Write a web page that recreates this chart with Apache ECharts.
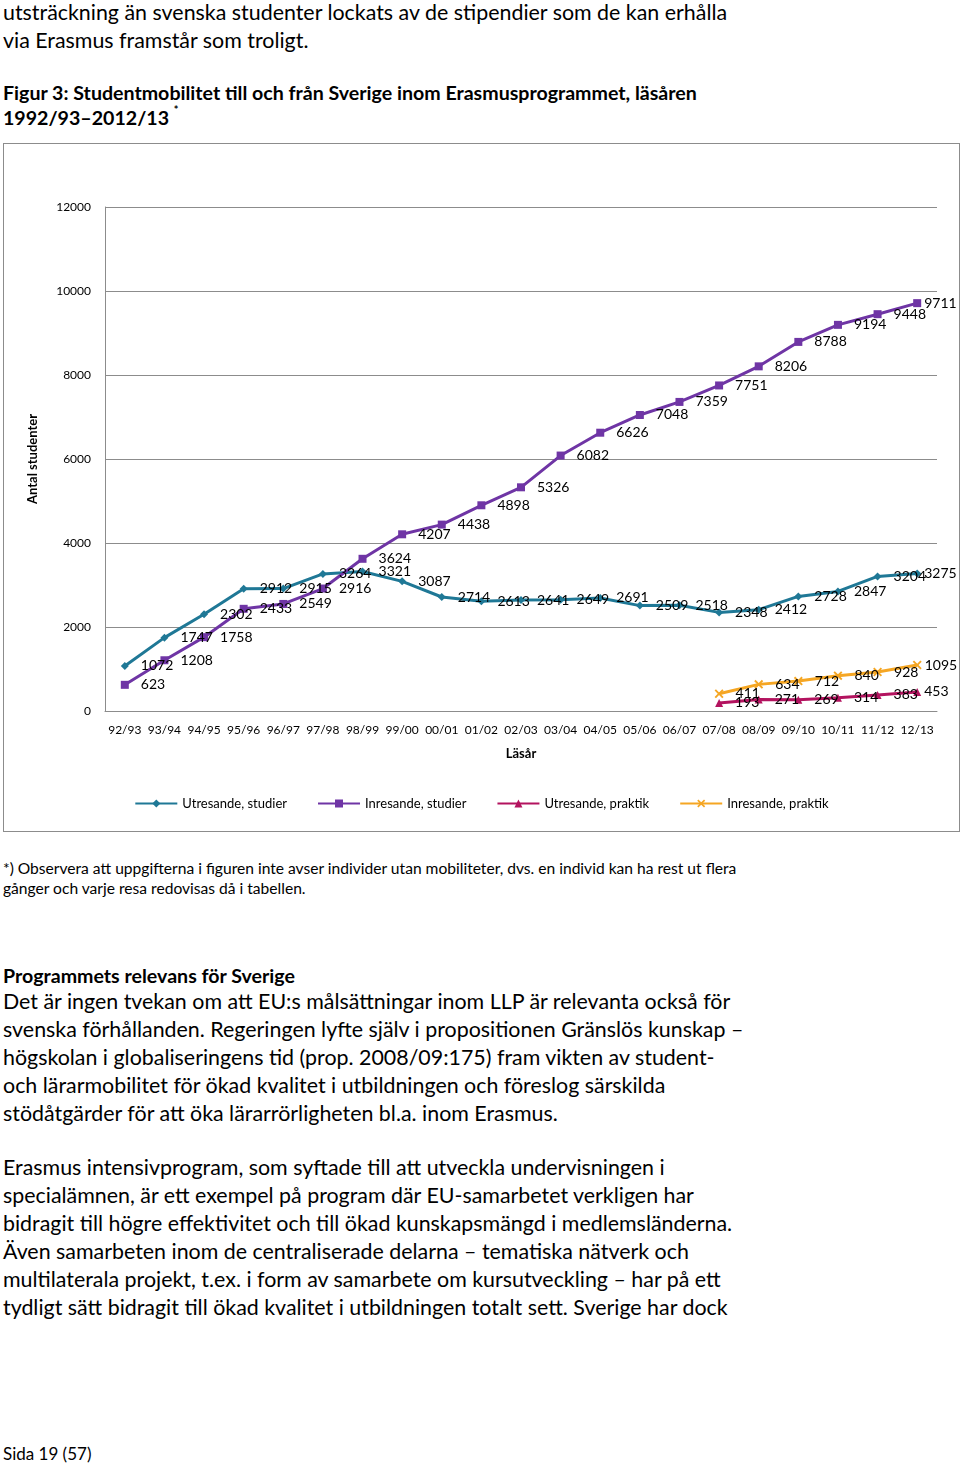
<!DOCTYPE html>
<html><head><meta charset="utf-8">
<script src="https://cdn.jsdelivr.net/npm/echarts@6/dist/echarts.min.js"></script>
<style>
html,body{margin:0;padding:0;background:#fff;}
body{width:960px;height:1466px;position:relative;overflow:hidden;font-family:Lato,"Open Sans",sans-serif;color:#000;}
.l{position:absolute;left:3px;white-space:nowrap;line-height:1;}
.b{font-size:21.4px;}
.c{font-size:19.6px;font-weight:bold;}
.f{font-size:15.6px;}
#chart{position:absolute;left:3px;top:143px;width:955px;height:687px;border:1.5px solid #8c8c8c;}
</style></head><body>
<div class="l b" style="top:2px">utsträckning än svenska studenter lockats av de stipendier som de kan erhålla</div>
<div class="l b" style="top:30px">via Erasmus framstår som troligt.</div>
<div class="l c" style="top:83px">Figur 3: Studentmobilitet till och från Sverige inom Erasmusprogrammet, läsåren</div>
<div class="l c" style="top:107px">1992/93–2012/13 <sup style="font-size:11px;position:relative;top:-3px">*</sup></div>
<div id="chart"></div>
<div class="l f" style="top:861px">*) Observera att uppgifterna i figuren inte avser individer utan mobiliteter, dvs. en individ kan ha rest ut flera</div>
<div class="l f" style="top:881px">gånger och varje resa redovisas då i tabellen.</div>
<div class="l c" style="top:966px">Programmets relevans för Sverige</div>
<div class="l b" style="top:991px">Det är ingen tvekan om att EU:s målsättningar inom LLP är relevanta också för</div>
<div class="l b" style="top:1019px">svenska förhållanden. Regeringen lyfte själv i propositionen Gränslös kunskap –</div>
<div class="l b" style="top:1047px">högskolan i globaliseringens tid (prop. 2008/09:175) fram vikten av student-</div>
<div class="l b" style="top:1075px">och lärarmobilitet för ökad kvalitet i utbildningen och föreslog särskilda</div>
<div class="l b" style="top:1103px">stödåtgärder för att öka lärarrörligheten bl.a. inom Erasmus.</div>
<div class="l b" style="top:1157px">Erasmus intensivprogram, som syftade till att utveckla undervisningen i</div>
<div class="l b" style="top:1185px">specialämnen, är ett exempel på program där EU-samarbetet verkligen har</div>
<div class="l b" style="top:1213px">bidragit till högre effektivitet och till ökad kunskapsmängd i medlemsländerna.</div>
<div class="l b" style="top:1241px">Även samarbeten inom de centraliserade delarna – tematiska nätverk och</div>
<div class="l b" style="top:1269px">multilaterala projekt, t.ex. i form av samarbete om kursutveckling – har på ett</div>
<div class="l b" style="top:1297px">tydligt sätt bidragit till ökad kvalitet i utbildningen totalt sett. Sverige har dock</div>
<div class="l" style="top:1445px;font-size:17px">Sida 19 (57)</div>
<script>
var categories = ['92/93','93/94','94/95','95/96','96/97','97/98','98/99','99/00','00/01','01/02','02/03','03/04','04/05','05/06','06/07','07/08','08/09','09/10','10/11','11/12','12/13'];
var utresandeStudier = [1072,1747,2302,2912,2915,3264,3321,3087,2714,2613,2641,2649,2691,2509,2518,2348,2412,2728,2847,3204,3275];
var inresandeStudier = [623,1208,1758,2433,2549,2916,3624,4207,4438,4898,5326,6082,6626,7048,7359,7751,8206,8788,9194,9448,9711];
var praktikStart = '07/08';
var utresandePraktik = [193,271,269,314,383,453];
var inresandePraktik = [411,634,712,840,928,1095];
var yTicks = [0,2000,4000,6000,8000,10000,12000];

function pad(vals){
  var s = categories.indexOf(praktikStart);
  var out = [];
  for (var i=0;i<categories.length;i++) out.push(i>=s ? vals[i-s] : null);
  return out;
}
function toData(arr){
  return arr.map(function(v,i){
    if (i===arr.length-1) return {value:v,label:{distance:3}};
    return v;
  });
}
var FONT = 'Lato, "Open Sans", sans-serif';
var xPath = 'path://M0,1.5L1.5,0L5,3.5L8.5,0L10,1.5L6.5,5L10,8.5L8.5,10L5,6.5L1.5,10L0,8.5L3.5,5Z';
function ser(name, vals, color, symbol, size){
  return {
    name:name, type:'line', data:toData(vals), connectNulls:false,
    symbol:symbol, symbolSize:size, showAllSymbol:true,
    lineStyle:{color:color,width:3}, itemStyle:{color:color},
    emphasis:{disabled:true},
    label:{show:true, position:'right', distance:12, color:'#000', fontSize:14, fontFamily:FONT}
  };
}
var chart = echarts.init(document.getElementById('chart'), null, {renderer:'canvas'});
chart.setOption({
  animation:false,
  textStyle:{fontFamily:FONT},
  grid:{left:101, right:22, top:63, bottom:120},
  legend:{
    bottom:16, left:'center', itemWidth:42, itemHeight:10, itemGap:30,
    textStyle:{fontSize:13, color:'#000', fontFamily:FONT},
    data:['Utresande, studier','Inresande, studier','Utresande, praktik','Inresande, praktik']
  },
  xAxis:{
    type:'category', data:categories, boundaryGap:true,
    name:'Läsår', nameLocation:'middle', nameGap:36,
    nameTextStyle:{fontSize:13, fontWeight:'bold', color:'#000', fontFamily:FONT},
    axisLine:{lineStyle:{color:'#8c8c8c'}}, axisTick:{show:false},
    axisLabel:{interval:0, fontSize:12, color:'#000', margin:13, fontFamily:FONT}
  },
  yAxis:{
    type:'value', min:yTicks[0], max:yTicks[yTicks.length-1], interval:2000,
    name:'Antal studenter', nameLocation:'middle', nameGap:66,
    nameTextStyle:{fontSize:13, fontWeight:'bold', color:'#000', fontFamily:FONT},
    axisLine:{show:true, lineStyle:{color:'#8c8c8c'}}, axisTick:{show:false},
    splitLine:{lineStyle:{color:'#8c8c8c', width:1}},
    axisLabel:{fontSize:12, color:'#000', margin:14, fontFamily:FONT, formatter:function(v){return String(v);}}
  },
  series:[
    ser('Utresande, studier', utresandeStudier, '#1f7896', 'diamond', 8),
    ser('Inresande, studier', inresandeStudier, '#6f35a5', 'rect', 8),
    ser('Utresande, praktik', pad(utresandePraktik), '#b3135f', 'triangle', 8),
    ser('Inresande, praktik', pad(inresandePraktik), '#f5a623', xPath, 9)
  ]
});
</script>
</body></html>
